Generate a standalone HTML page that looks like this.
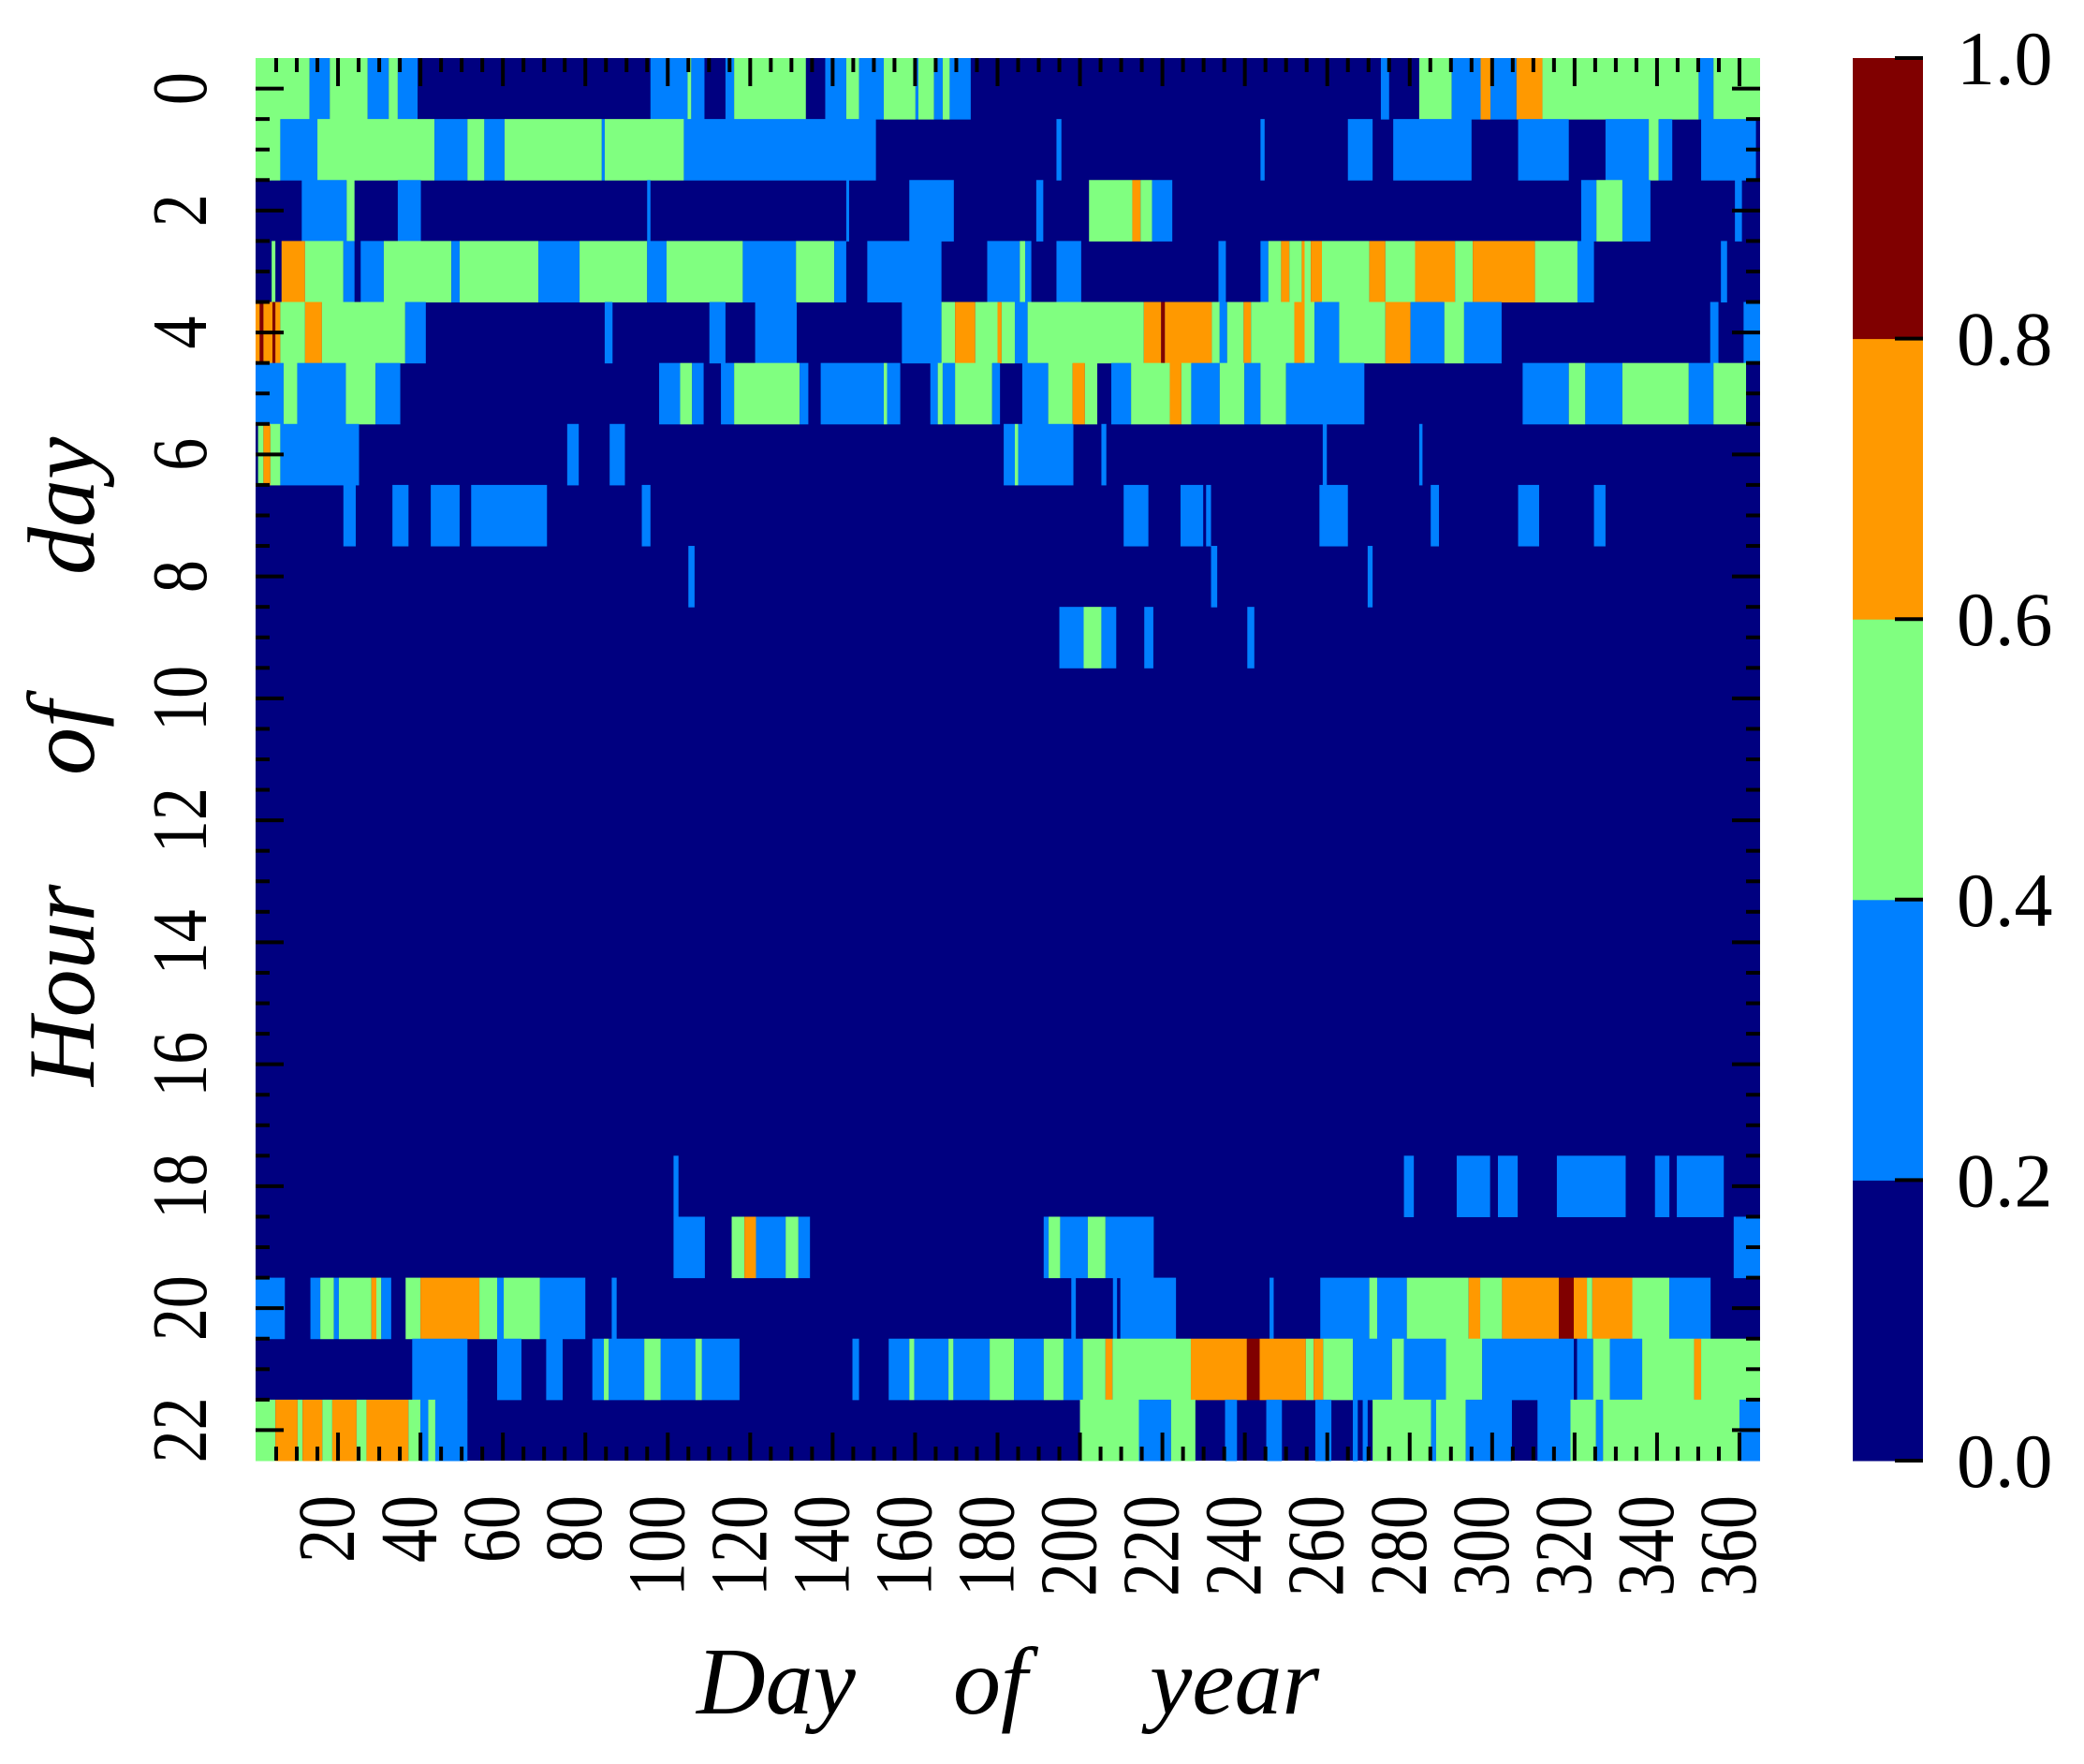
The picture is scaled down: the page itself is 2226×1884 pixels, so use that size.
<!DOCTYPE html>
<html><head><meta charset="utf-8"><style>
html,body{margin:0;padding:0;background:#fff;}
svg{display:block;font-family:"Liberation Serif",serif;}
</style></head><body>
<svg id="chart" width="2226" height="1884" viewBox="0 0 2226 1884" xmlns="http://www.w3.org/2000/svg">
<g id="cells"></g>
<g id="ticks"></g>
<g id="ylabels"></g>
<g id="xlabels"></g>
<g id="cbar"></g>
<text font-style="italic" font-size="102" y="1830"><tspan x="744">Day</tspan><tspan x="1018">of</tspan><tspan x="1228">year</tspan></text>
<g transform="translate(100,0) rotate(-90)"><text font-style="italic" font-size="102" x="0" y="0"><tspan x="-1160">Hour</tspan><tspan x="-828">of</tspan><tspan x="-614">day</tspan></text></g>
</svg>
<script>
// level classes: 0 navy, 1 blue, 2 green, 3 orange, 4 dark red (value bins of 0.2)
const hours = [0,1,2,3,4,5,6,7,8,9,10,11,12,13,14,15,16,17,18,19,20,21,22];
const yTickLabels = ["0","2","4","6","8","10","12","14","16","18","20","22"];
const xTickLabels = [20,40,60,80,100,120,140,160,180,200,220,240,260,280,300,320,340,360];
const cbarLabels = ["0.0","0.2","0.4","0.6","0.8","1.0"];
const cbarLevels = [0,1,2,3,4];
const row0 = [[0,13.1,2],[13.1,18,1],[18,27.2,2],[27.2,32.3,1],[32.3,34.5,2],[34.5,39.3,1],[95.8,104.8,1],[104.8,105.7,2],[105.7,108.9,1],[114,116.1,1],[116.1,133.5,2],[138.2,143.3,1],[143.3,146.4,2],[146.4,152.4,1],[152.4,160.1,2],[160.1,160.8,1],[160.8,164.6,2],[164.6,166.7,1],[166.7,168.4,2],[168.4,173.5,1],[273,275,1],[282.3,290.2,2],[290.2,297.2,1],[297.2,299.6,3],[299.6,305.9,1],[305.9,312.2,3],[312.2,350.1,2],[350.1,353.7,1],[353.7,365,2]];
const row1 = [[0,6,2],[6,15,1],[15,43.4,2],[43.4,51.4,1],[51.4,55.5,2],[55.5,60.4,1],[60.4,84,2],[84,84.7,1],[84.7,103.9,2],[103.9,150.5,1],[194.3,195.5,1],[243.8,244.8,1],[265,271,1],[276,295,1],[306.3,318.6,1],[327.5,338,1],[338,340.4,2],[340.4,343.7,1],[350.7,364,1]];
const row2 = [[11.2,22.1,1],[22.1,24,2],[34.5,40.1,1],[95,95.8,1],[143.3,144,1],[158.6,169.4,1],[189.4,191.1,1],[202.2,212.7,2],[212.7,214.7,3],[214.7,217.5,2],[217.5,222.4,1],[321.6,325.3,1],[325.3,331.6,2],[331.6,338.4,1],[358.9,360.6,1]];
const row3 = [[3.9,4.8,2],[6.3,12,3],[12,21.3,2],[21.3,24,1],[25.5,31.1,1],[31.1,47.5,2],[47.5,49.5,1],[49.5,68.6,2],[68.6,78.6,1],[78.6,95,2],[95,99.7,1],[99.7,118.2,2],[118.2,131.1,1],[131.1,140.4,2],[140.4,143.3,1],[148.4,166.4,1],[177.5,185.4,1],[185.4,186.7,2],[186.7,188.2,1],[194.3,200.3,1],[233.6,235.4,1],[243.8,245.7,1],[245.7,248.8,2],[248.8,250.8,3],[250.8,253.8,2],[253.8,254.5,3],[254.5,256,2],[256,258.7,3],[258.7,270.2,2],[270.2,274.1,3],[274.1,281.3,2],[281.3,291,3],[291,295.3,2],[295.3,310.4,3],[310.4,320.7,2],[320.7,324.7,1],[355.5,357,1]];
const row4 = [[0,1,3],[1,1.9,4],[1.9,4.1,3],[4.1,4.8,4],[4.8,6,3],[6,12,2],[12,16.1,3],[16.1,36.3,2],[36.3,41.3,1],[84.7,86.6,1],[110.1,114,1],[121.2,131.3,1],[156.8,166.4,1],[166.4,169.7,2],[169.7,174.6,3],[174.6,180,2],[180,181,3],[181,184.2,2],[184.2,187.3,1],[187.3,215.5,2],[215.5,219.7,3],[219.7,220.6,4],[220.6,232,3],[232,233.9,2],[233.9,235.7,1],[235.7,239.7,2],[239.7,241.5,3],[241.5,252,2],[252,254.5,3],[254.5,256.9,2],[256.9,262.9,1],[262.9,274.1,2],[274.1,280.2,3],[280.2,288.4,1],[288.4,293.2,2],[293.2,302.3,1],[352.9,354.9,1],[361,365,1]];
const row5 = [[0,6.8,1],[6.8,10.1,2],[10.1,21.9,1],[21.9,29.1,2],[29.1,35.1,1],[97.9,103,1],[103,105.9,2],[105.9,108.7,1],[112.9,116.1,1],[116.1,132,2],[132,134.1,1],[137.1,152.4,1],[152.4,153.2,2],[153.2,156.4,1],[163.7,165.5,1],[165.5,166.7,2],[166.7,169.7,1],[169.7,178.7,2],[178.7,180.6,1],[186,192.3,1],[192.3,198.2,2],[198.2,201.2,3],[201.2,204.2,2],[207.6,212.4,1],[212.4,221.8,2],[221.8,224.6,3],[224.6,227,2],[227,233.9,1],[233.9,239.9,2],[239.9,243.8,1],[243.8,250,2],[250,269,1],[307.4,318.6,1],[318.6,322.6,2],[322.6,331.6,1],[331.6,347.7,2],[347.7,353.7,1],[353.7,361.6,2]];
const row6 = [[0.6,1.9,2],[1.9,3.6,3],[3.6,6,2],[6,25.1,1],[75.6,78.4,1],[85.9,89.6,1],[181.5,184.2,1],[184.2,185,2],[185,198.4,1],[205.2,206.4,1],[258.9,259.9,1],[282.3,283.1,1]];
const row7 = [[21.3,24.3,1],[33.2,37.1,1],[42.5,49.5,1],[52.3,70.7,1],[93.7,95.8,1],[210.6,216.6,1],[224.4,229.9,1],[230.6,231.8,1],[258.1,265,1],[285.1,287.1,1],[306.3,311.4,1],[324.7,327.5,1]];
const row8 = [[105,106.5,1],[231.8,233.3,1],[269.8,271,1]];
const row9 = [[195,200.9,1],[200.9,205.2,2],[205.2,208.8,1],[215.6,217.8,1],[240.6,242.3,1]];
const row10 = [], row11 = [], row12 = [], row13 = [], row14 = [], row15 = [], row16 = [], row17 = [];
const row18 = [[101.4,102.6,1],[278.6,281,1],[291.4,299.5,1],[301.4,306.2,1],[315.7,332.4,1],[339.5,343,1],[344.8,356.2,1]];
const row19 = [[101.4,109,1],[115.5,118.6,2],[118.6,121.4,3],[121.4,128.6,1],[128.6,131.7,2],[131.7,134.5,1],[191.2,192.4,1],[192.4,195.2,2],[195.2,201.9,1],[201.9,206.2,2],[206.2,217.9,1],[358.6,365,1]];
const row20 = [[0,7.1,1],[13.3,15.7,1],[15.7,19,2],[19,20.2,1],[20.2,28.1,2],[28.1,29.3,3],[29.3,30.5,2],[30.5,32.9,1],[36.4,40,2],[40,54.3,3],[54.3,58.6,2],[58.6,60.2,1],[60.2,69,2],[69,80,1],[86.4,87.6,1],[197.9,199,1],[208,209,1],[209.8,223.3,1],[246,247,1],[258.3,270.2,1],[270.2,272.1,2],[272.1,279.3,1],[279.3,294.3,2],[294.3,297.1,3],[297.1,302.4,2],[302.4,316.2,3],[316.2,319.8,4],[319.8,323,3],[323,324.3,2],[324.3,334,3],[334,343,2],[343,353,1]];
const row21 = [[38,51.4,1],[58.6,64.5,1],[70.5,74.5,1],[81.7,84.5,1],[84.5,85.7,2],[85.7,94.3,1],[94.3,98.3,2],[98.3,106.7,1],[106.7,108.3,2],[108.3,117.4,1],[144.8,146.4,1],[153.6,158.6,1],[158.6,159.8,2],[159.8,168.1,1],[168.1,169.3,2],[169.3,178.1,1],[178.1,184,2],[184,191.2,1],[191.2,196,2],[196,200.7,1],[200.7,206.2,2],[206.2,207.9,3],[207.9,226.9,2],[226.9,240.5,3],[240.5,243.6,4],[243.6,254.8,3],[254.8,256.7,2],[256.7,259,3],[259,266.2,2],[266.2,275.7,1],[275.7,278.6,2],[278.6,288.8,1],[288.8,297.6,2],[297.6,319.8,1],[319.8,320.6,0],[320.6,324.5,1],[324.5,328.6,2],[328.6,336.4,1],[336.4,349,2],[349,350.7,3],[350.7,365,2]];
const row22 = [[0,4.8,2],[4.8,10.2,3],[10.2,11.4,2],[11.4,16.2,3],[16.2,18.6,2],[18.6,24.5,3],[24.5,26.9,2],[26.9,37.1,3],[37.1,40,2],[40,41.9,1],[41.9,43.6,2],[43.6,51.4,1],[200,214.3,2],[214.3,222.1,1],[222.1,228,2],[235.2,238.1,1],[245.2,249,1],[257.1,261,1],[266.2,267.4,1],[268.6,269.8,1],[271,285.2,2],[285.2,286.4,1],[286.4,293.6,2],[293.6,304.8,1],[311,319,1],[319,325.2,2],[325.2,326.9,1],[326.9,360,2],[360,365,1]];
const rows = [row0,row1,row2,row3,row4,row5,row6,row7,row8,row9,row10,row11,row12,row13,row14,row15,row16,row17,row18,row19,row20,row21,row22];

const NS = "http://www.w3.org/2000/svg";
const PX0 = 273, PX1 = 1880, PY0 = 62, PY1 = 1560;
const DAY_MAX = 365, NROWS = hours.length;
const colors = ["#000080","#0080ff","#80ff80","#ff9900","#800000"];
function xs(d){ return PX0 + d/DAY_MAX*(PX1-PX0); }
function ys(h){ return PY0 + h/NROWS*(PY1-PY0); }
function mk(tag, attrs, parent){ const e=document.createElementNS(NS,tag); for(const k in attrs) e.setAttribute(k,attrs[k]); parent.appendChild(e); return e; }

const cells = document.getElementById('cells');
const bg = mk('rect',{x:PX0,y:PY0,width:PX1-PX0,height:PY1-PY0,fill:colors[0]},cells);


rows.forEach((segs, r) => {
  segs.forEach(s => {
    const x0 = xs(s[0]), x1 = xs(s[1]);
    const el = mk('rect',{x:x0.toFixed(2),y:ys(hours[r]).toFixed(2),width:Math.max(x1-x0,1.5).toFixed(2),height:(ys(hours[r]+1)-ys(hours[r])+0.5).toFixed(2),fill:colors[s[2]]},cells);
    
    
  });
});

const ticks = document.getElementById('ticks');
function line(x1,y1,x2,y2,w){ const l=mk('line',{x1,y1,x2,y2,stroke:'#000','stroke-width':w||4},ticks);   }
for(let d=5; d<DAY_MAX; d+=5){
  const major = d%20===0, L = major?30:15, x=xs(d);
  line(x,PY0,x,PY0+L); line(x,PY1,x,PY1-L);
}
for(let h=0.5; h<NROWS; h+=0.5){
  const major = (h-0.5)%2===0, L = major?30:15, y=ys(h);
  line(PX0,y,PX0+L,y); line(PX1,y,PX1-L,y);
}

const yl = document.getElementById('ylabels');
yTickLabels.forEach(t => {
  const h = parseInt(t,10)+0.5;
  const g = mk('g',{transform:`translate(220,${ys(h).toFixed(1)}) rotate(-90) scale(1,1.2)`},yl);
  const tx = mk('text',{x:0,y:0,'text-anchor':'middle','font-size':70},g);
  tx.textContent = t;
  
  
});
const xl = document.getElementById('xlabels');
xTickLabels.forEach(v => {
  const g = mk('g',{transform:`translate(${(xs(v)+17).toFixed(1)},1597) rotate(-90) scale(1,1.2)`},xl);
  const tx = mk('text',{x:0,y:0,'text-anchor':'end','font-size':72},g);
  tx.textContent = String(v);
  
  
});

const cb = document.getElementById('cbar');
const CX0 = 1979, CX1 = 2054;
const bandH = (PY1-PY0)/cbarLevels.length;
cbarLevels.forEach((lv,i) => {
  const r = mk('rect',{x:CX0,y:(PY1-(i+1)*bandH).toFixed(2),width:CX1-CX0,height:(bandH+0.5).toFixed(2),fill:colors[lv]},cb);
  
  
});
cbarLabels.forEach((t,i) => {
  const y = PY1 - i*bandH;
  const l = mk('line',{x1:CX1-30,y1:y,x2:CX1,y2:y,stroke:'#000','stroke-width':4},cb);
  
  
  const tx = mk('text',{x:2090,y:(y+28).toFixed(1),'font-size':82},cb);
  tx.textContent = t;
  
  
});
</script>
</body></html>
